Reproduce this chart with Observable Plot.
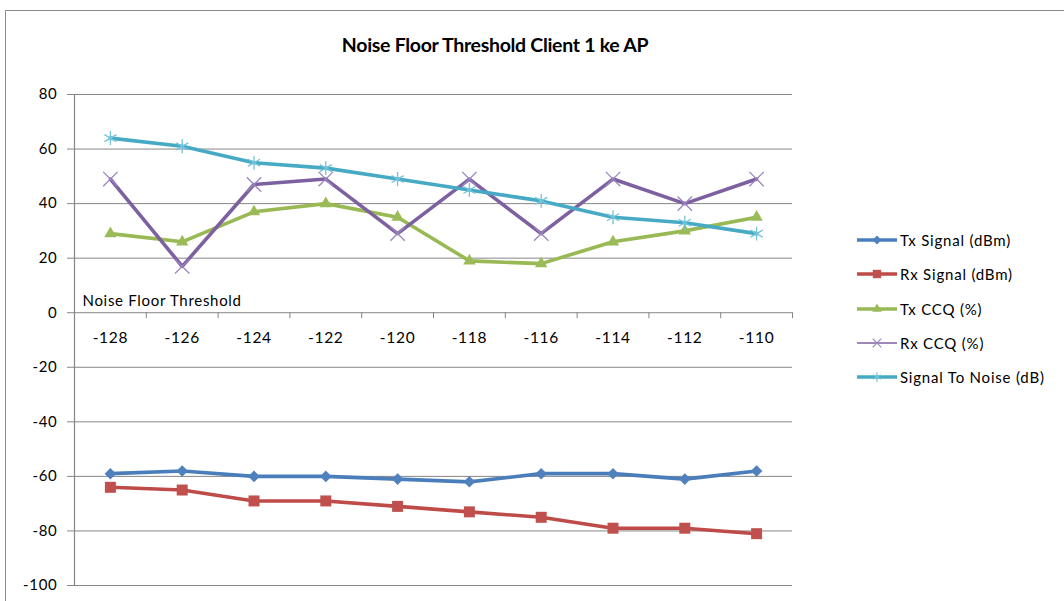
<!DOCTYPE html>
<html><head><meta charset="utf-8">
<script src="https://cdn.jsdelivr.net/npm/d3@7"></script>
<script src="https://cdn.jsdelivr.net/npm/@observablehq/plot@0.6"></script>
<style>
body{margin:0;background:#fff;overflow:hidden;font-family:Lato,"Open Sans",sans-serif;color:#000}
#wrap{position:relative;width:1064px;height:601px;overflow:hidden;background:#fff}
#frame{position:absolute;left:5px;top:10px;width:1100px;height:700px;border:1px solid #8c8c8c;box-sizing:border-box}
#chart{position:absolute;left:0;top:0}
#title{position:absolute;top:33px;left:0;width:990px;text-align:center;font-weight:bold;font-size:19.5px;line-height:24px;letter-spacing:-0.3px}
#legend{position:absolute;left:857px;top:223px}
.row{height:34.3px;display:flex;align-items:center;font-size:15px;letter-spacing:0.8px;white-space:nowrap}
.row svg{margin-right:1px}
</style>
</head><body>
<div id="wrap">
  <div id="frame"></div>
  <div id="chart"></div>
  <div id="title">Noise Floor Threshold Client 1 ke AP</div>
  <div id="legend"></div>
</div>
<script>
const categories = [-128, -126, -124, -122, -120, -118, -116, -114, -112, -110];
const xTickBounds = [-129, -127, -125, -123, -121, -119, -117, -115, -113, -111, -109];
const yTicks = [-100, -80, -60, -40, -20, 0, 20, 40, 60, 80];
const txSignal = [-59, -58, -60, -60, -61, -62, -59, -59, -61, -58];
const rxSignal = [-64, -65, -69, -69, -71, -73, -75, -79, -79, -81];
const txCCQ = [29, 26, 37, 40, 35, 19, 18, 26, 30, 35];
const rxCCQ = [49, 17, 47, 49, 29, 49, 29, 49, 40, 49];
const snr = [64, 61, 55, 53, 49, 45, 41, 35, 33, 29];
const seriesNames = ["Tx Signal (dBm)", "Rx Signal (dBm)", "Tx CCQ (%)", "Rx CCQ (%)", "Signal To Noise (dB)"];
const seriesValues = [txSignal, rxSignal, txCCQ, rxCCQ, snr];
const lineColors = ["#4A7EBB", "#BE4B48", "#98B954", "#7D60A0", "#46AAC5"];
const markColors = ["#4F81BD", "#C0504D", "#9BBB59", "#9A86BE", "#72C4DA"];
const symbols = ["diamond2", "square", "triangle", "times", "asterisk"];
const filled = [true, true, true, false, false];
const radii = [5.2, 6.2, 4.6, 6.6, 6.6];

const data = seriesNames.flatMap((s, i) => categories.map((c, j) => ({series: s, x: c, y: seriesValues[i][j]})));

const dotMarks = seriesNames.map((s, i) => Plot.dot(data.filter(d => d.series === s), {
  x: "x", y: "y", symbol: () => symbols[i], r: radii[i],
  fill: filled[i] ? markColors[i] : "none",
  stroke: filled[i] ? "none" : markColors[i],
  strokeWidth: filled[i] ? 0 : 1.3
}));

const chart = Plot.plot({
  width: 1064, height: 601,
  marginLeft: 74, marginRight: 272, marginTop: 94, marginBottom: 16,
  style: {fontFamily: "Lato, 'Open Sans', sans-serif", background: "transparent", color: "#000", letterSpacing: "0.7px"},
  x: {domain: [-129, -109], axis: null},
  y: {domain: [-100, 80], axis: null},
  symbol: {type: "identity"},
  color: {domain: seriesNames, range: lineColors},
  marks: [
    Plot.gridY(yTicks, {stroke: "#868686", strokeOpacity: 1, strokeWidth: 1}),
    Plot.ruleX([-129], {stroke: "#868686", strokeWidth: 1.2}),
    Plot.axisY(yTicks, {tickSize: 7, tickPadding: 10, fontSize: 15, stroke: "#868686", fill: "#000", label: null, tickFormat: d => String(d)}),
    Plot.ruleX(xTickBounds, {x: d => d, y1: 0, y2: -2.2, stroke: "#868686"}),
    Plot.text(categories, {x: d => d, y: 0, dy: 25, text: d => String(d), fontSize: 15.5, fill: "#000"}),
    Plot.text(["Noise Floor Threshold"], {x: -129, y: 0, dx: 8, dy: -12, textAnchor: "start", fontSize: 15, fill: "#000"}),
    Plot.line(data, {x: "x", y: "y", z: "series", stroke: "series", strokeWidth: 3.6, strokeLinejoin: "round"}),
    ...dotMarks
  ]
});
document.getElementById("chart").appendChild(chart);

// legend
const legend = document.getElementById("legend");
const legendSizes = [50, 70, 40, 50, 60];
const symMap = {diamond2: d3.symbolDiamond2, square: d3.symbolSquare, triangle: d3.symbolTriangle, times: d3.symbolTimes, asterisk: d3.symbolAsterisk};
seriesNames.forEach((s, i) => {
  const row = document.createElement("div");
  row.className = "row";
  const svg = d3.create("svg").attr("width", 42).attr("height", 20);
  svg.append("line").attr("x1", 0).attr("x2", 40).attr("y1", 10).attr("y2", 10)
    .attr("stroke", lineColors[i]).attr("stroke-width", filled[i] || i === 4 ? 3.5 : 1.5);
  svg.append("path").attr("transform", "translate(20,10)")
    .attr("d", d3.symbol(symMap[symbols[i]], legendSizes[i])())
    .attr("fill", filled[i] ? markColors[i] : "none")
    .attr("stroke", filled[i] ? "none" : markColors[i])
    .attr("stroke-width", 1.2);
  row.appendChild(svg.node());
  const span = document.createElement("span");
  span.textContent = s;
  row.appendChild(span);
  legend.appendChild(row);
});
</script>
</body></html>
